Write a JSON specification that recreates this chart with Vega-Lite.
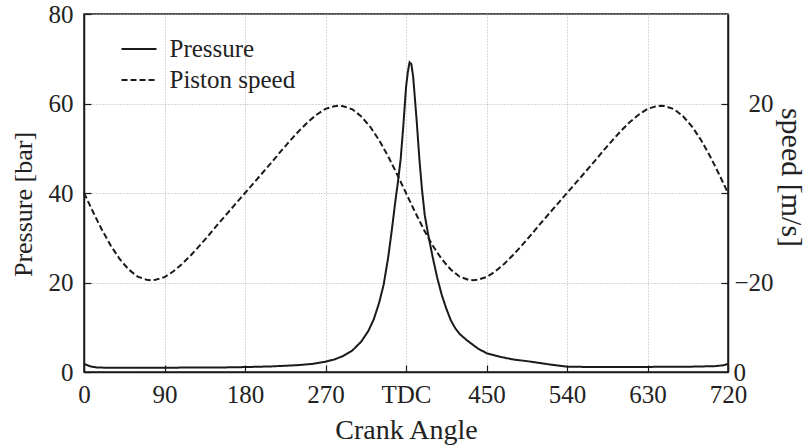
{
  "$schema": "https://vega.github.io/schema/vega-lite/v6.json",
  "width": 644,
  "height": 358,
  "autosize": {"type": "none"},
  "padding": {"left": 84, "top": 14, "right": 81, "bottom": 75},
  "background": "white",
  "config": {
    "font": "Liberation Serif",
    "view": {"stroke": "#1a1a1a", "strokeWidth": 1.5},
    "axis": {
      "labelFont": "Liberation Serif",
      "titleFont": "Liberation Serif",
      "labelColor": "#222",
      "titleColor": "#222",
      "titleFontWeight": "normal",
      "domainColor": "#1a1a1a",
      "domainWidth": 1.5,
      "tickColor": "#1a1a1a",
      "tickWidth": 1.2,
      "gridColor": "#b0b0b0",
      "gridDash": [1, 2],
      "gridWidth": 1,
      "labelFontSize": 25,
      "titleFontSize": 26
    },
    "legend": {"labelFont": "Liberation Serif"}
  },
  "data": {
    "values": [
      {"angle": 0, "value": 1.8, "series": "Pressure"},
      {"angle": 4, "value": 1.5, "series": "Pressure"},
      {"angle": 8, "value": 1.2, "series": "Pressure"},
      {"angle": 15, "value": 1.0, "series": "Pressure"},
      {"angle": 30, "value": 0.95, "series": "Pressure"},
      {"angle": 60, "value": 0.95, "series": "Pressure"},
      {"angle": 90, "value": 0.95, "series": "Pressure"},
      {"angle": 120, "value": 1.0, "series": "Pressure"},
      {"angle": 150, "value": 1.0, "series": "Pressure"},
      {"angle": 180, "value": 1.1, "series": "Pressure"},
      {"angle": 210, "value": 1.25, "series": "Pressure"},
      {"angle": 240, "value": 1.55, "series": "Pressure"},
      {"angle": 255, "value": 1.8, "series": "Pressure"},
      {"angle": 270, "value": 2.3, "series": "Pressure"},
      {"angle": 280, "value": 2.8, "series": "Pressure"},
      {"angle": 290, "value": 3.6, "series": "Pressure"},
      {"angle": 300, "value": 4.8, "series": "Pressure"},
      {"angle": 310, "value": 6.8, "series": "Pressure"},
      {"angle": 318, "value": 9.2, "series": "Pressure"},
      {"angle": 324, "value": 11.8, "series": "Pressure"},
      {"angle": 330, "value": 15.5, "series": "Pressure"},
      {"angle": 335, "value": 19.5, "series": "Pressure"},
      {"angle": 340, "value": 25.5, "series": "Pressure"},
      {"angle": 344, "value": 31.5, "series": "Pressure"},
      {"angle": 348, "value": 38, "series": "Pressure"},
      {"angle": 351, "value": 42.5, "series": "Pressure"},
      {"angle": 354, "value": 47.5, "series": "Pressure"},
      {"angle": 357, "value": 55, "series": "Pressure"},
      {"angle": 360, "value": 63.5, "series": "Pressure"},
      {"angle": 362, "value": 67, "series": "Pressure"},
      {"angle": 364, "value": 69.2, "series": "Pressure"},
      {"angle": 366, "value": 68.8, "series": "Pressure"},
      {"angle": 368, "value": 66, "series": "Pressure"},
      {"angle": 370, "value": 61, "series": "Pressure"},
      {"angle": 372, "value": 56, "series": "Pressure"},
      {"angle": 375, "value": 47.5, "series": "Pressure"},
      {"angle": 378, "value": 40.5, "series": "Pressure"},
      {"angle": 381, "value": 35, "series": "Pressure"},
      {"angle": 385, "value": 30.5, "series": "Pressure"},
      {"angle": 390, "value": 25.5, "series": "Pressure"},
      {"angle": 395, "value": 21, "series": "Pressure"},
      {"angle": 400, "value": 17.2, "series": "Pressure"},
      {"angle": 405, "value": 14.2, "series": "Pressure"},
      {"angle": 410, "value": 11.6, "series": "Pressure"},
      {"angle": 415, "value": 9.8, "series": "Pressure"},
      {"angle": 420, "value": 8.5, "series": "Pressure"},
      {"angle": 428, "value": 7.1, "series": "Pressure"},
      {"angle": 440, "value": 5.3, "series": "Pressure"},
      {"angle": 450, "value": 4.2, "series": "Pressure"},
      {"angle": 465, "value": 3.4, "series": "Pressure"},
      {"angle": 480, "value": 2.8, "series": "Pressure"},
      {"angle": 500, "value": 2.3, "series": "Pressure"},
      {"angle": 520, "value": 1.7, "series": "Pressure"},
      {"angle": 540, "value": 1.2, "series": "Pressure"},
      {"angle": 570, "value": 1.1, "series": "Pressure"},
      {"angle": 600, "value": 1.1, "series": "Pressure"},
      {"angle": 640, "value": 1.15, "series": "Pressure"},
      {"angle": 680, "value": 1.2, "series": "Pressure"},
      {"angle": 705, "value": 1.3, "series": "Pressure"},
      {"angle": 715, "value": 1.5, "series": "Pressure"},
      {"angle": 720, "value": 1.8, "series": "Pressure"},

      {"angle": 0, "value": 0, "series": "Piston speed"},
      {"angle": 10, "value": -4.2, "series": "Piston speed"},
      {"angle": 20, "value": -8.2, "series": "Piston speed"},
      {"angle": 30, "value": -11.8, "series": "Piston speed"},
      {"angle": 40, "value": -14.8, "series": "Piston speed"},
      {"angle": 50, "value": -17.1, "series": "Piston speed"},
      {"angle": 60, "value": -18.7, "series": "Piston speed"},
      {"angle": 70, "value": -19.4, "series": "Piston speed"},
      {"angle": 75, "value": -19.5, "series": "Piston speed"},
      {"angle": 80, "value": -19.4, "series": "Piston speed"},
      {"angle": 90, "value": -18.8, "series": "Piston speed"},
      {"angle": 100, "value": -17.5, "series": "Piston speed"},
      {"angle": 110, "value": -15.8, "series": "Piston speed"},
      {"angle": 120, "value": -13.8, "series": "Piston speed"},
      {"angle": 130, "value": -11.6, "series": "Piston speed"},
      {"angle": 140, "value": -9.3, "series": "Piston speed"},
      {"angle": 150, "value": -6.9, "series": "Piston speed"},
      {"angle": 160, "value": -4.6, "series": "Piston speed"},
      {"angle": 170, "value": -2.3, "series": "Piston speed"},
      {"angle": 180, "value": 0, "series": "Piston speed"},
      {"angle": 190, "value": 2.3, "series": "Piston speed"},
      {"angle": 200, "value": 4.6, "series": "Piston speed"},
      {"angle": 210, "value": 6.9, "series": "Piston speed"},
      {"angle": 220, "value": 9.3, "series": "Piston speed"},
      {"angle": 230, "value": 11.6, "series": "Piston speed"},
      {"angle": 240, "value": 13.8, "series": "Piston speed"},
      {"angle": 250, "value": 15.8, "series": "Piston speed"},
      {"angle": 260, "value": 17.5, "series": "Piston speed"},
      {"angle": 270, "value": 18.8, "series": "Piston speed"},
      {"angle": 280, "value": 19.4, "series": "Piston speed"},
      {"angle": 285, "value": 19.5, "series": "Piston speed"},
      {"angle": 290, "value": 19.4, "series": "Piston speed"},
      {"angle": 300, "value": 18.7, "series": "Piston speed"},
      {"angle": 310, "value": 17.1, "series": "Piston speed"},
      {"angle": 320, "value": 14.8, "series": "Piston speed"},
      {"angle": 330, "value": 11.8, "series": "Piston speed"},
      {"angle": 340, "value": 8.2, "series": "Piston speed"},
      {"angle": 350, "value": 4.2, "series": "Piston speed"},
      {"angle": 360, "value": 0, "series": "Piston speed"},
      {"angle": 370, "value": -4.2, "series": "Piston speed"},
      {"angle": 380, "value": -8.2, "series": "Piston speed"},
      {"angle": 390, "value": -11.8, "series": "Piston speed"},
      {"angle": 400, "value": -14.8, "series": "Piston speed"},
      {"angle": 410, "value": -17.1, "series": "Piston speed"},
      {"angle": 420, "value": -18.7, "series": "Piston speed"},
      {"angle": 430, "value": -19.4, "series": "Piston speed"},
      {"angle": 435, "value": -19.5, "series": "Piston speed"},
      {"angle": 440, "value": -19.4, "series": "Piston speed"},
      {"angle": 450, "value": -18.8, "series": "Piston speed"},
      {"angle": 460, "value": -17.5, "series": "Piston speed"},
      {"angle": 470, "value": -15.8, "series": "Piston speed"},
      {"angle": 480, "value": -13.8, "series": "Piston speed"},
      {"angle": 490, "value": -11.6, "series": "Piston speed"},
      {"angle": 500, "value": -9.3, "series": "Piston speed"},
      {"angle": 510, "value": -6.9, "series": "Piston speed"},
      {"angle": 520, "value": -4.6, "series": "Piston speed"},
      {"angle": 530, "value": -2.3, "series": "Piston speed"},
      {"angle": 540, "value": 0, "series": "Piston speed"},
      {"angle": 550, "value": 2.3, "series": "Piston speed"},
      {"angle": 560, "value": 4.6, "series": "Piston speed"},
      {"angle": 570, "value": 6.9, "series": "Piston speed"},
      {"angle": 580, "value": 9.3, "series": "Piston speed"},
      {"angle": 590, "value": 11.6, "series": "Piston speed"},
      {"angle": 600, "value": 13.8, "series": "Piston speed"},
      {"angle": 610, "value": 15.8, "series": "Piston speed"},
      {"angle": 620, "value": 17.5, "series": "Piston speed"},
      {"angle": 630, "value": 18.8, "series": "Piston speed"},
      {"angle": 640, "value": 19.4, "series": "Piston speed"},
      {"angle": 645, "value": 19.5, "series": "Piston speed"},
      {"angle": 650, "value": 19.4, "series": "Piston speed"},
      {"angle": 660, "value": 18.7, "series": "Piston speed"},
      {"angle": 670, "value": 17.1, "series": "Piston speed"},
      {"angle": 680, "value": 14.8, "series": "Piston speed"},
      {"angle": 690, "value": 11.8, "series": "Piston speed"},
      {"angle": 700, "value": 8.2, "series": "Piston speed"},
      {"angle": 710, "value": 4.2, "series": "Piston speed"},
      {"angle": 720, "value": 0, "series": "Piston speed"}
    ]
  },
  "encoding": {
    "x": {
      "field": "angle",
      "type": "quantitative",
      "scale": {"domain": [0, 720], "nice": false, "zero": false},
      "axis": {
        "title": "Crank Angle",
        "titleFontSize": 28,
        "values": [0, 90, 180, 270, 360, 450, 540, 630, 720],
        "labelExpr": "datum.value === 360 ? 'TDC' : datum.label",
        "grid": true,
        "tickSize": -7,
        "labelPadding": 17,
        "titlePadding": 9,
        "labelFlush": false
      }
    },
    "strokeDash": {
      "field": "series",
      "type": "nominal",
      "scale": {"domain": ["Pressure", "Piston speed"], "range": [[1, 0], [6, 3]]},
      "legend": {
        "title": null,
        "orient": "none",
        "legendX": 36.5,
        "legendY": 22.5,
        "symbolType": "stroke",
        "symbolSize": 1225,
        "symbolStrokeWidth": 2,
        "symbolStrokeColor": "#1a1a1a",
        "labelFontSize": 25,
        "labelColor": "#222",
        "labelOffset": 12,
        "clipHeight": 25,
        "rowPadding": 5,
        "padding": 0
      }
    }
  },
  "layer": [
    {
      "transform": [{"filter": "datum.series === 'Pressure'"}],
      "mark": {"type": "line", "color": "#1a1a1a", "strokeWidth": 2},
      "encoding": {
        "y": {
          "field": "value",
          "type": "quantitative",
          "scale": {"domain": [0, 80], "nice": false},
          "axis": {
            "orient": "left",
            "title": "Pressure [bar]",
            "values": [0, 20, 40, 60, 80],
            "grid": true,
            "tickSize": -7,
            "labelPadding": 18,
            "titlePadding": 12,
            "titleY": 190
          }
        }
      }
    },
    {
      "transform": [{"filter": "datum.series === 'Piston speed'"}],
      "mark": {"type": "line", "color": "#1a1a1a", "strokeWidth": 2},
      "encoding": {
        "y": {
          "field": "value",
          "type": "quantitative",
          "scale": {"domain": [-40, 40], "nice": false, "zero": false},
          "axis": {
            "orient": "right",
            "title": "speed [m/s]",
            "titleFontSize": 30,
            "titleY": 163,
            "values": [-20, 0, 20],
            "labelExpr": "datum.value === 0 ? '' : datum.value === 20 ? '20' : '\u221220'",
            "labelAlign": "right",
            "grid": false,
            "tickSize": -7,
            "labelPadding": 52,
            "titlePadding": 2,
            "labelFlush": false
          }
        }
      }
    },
    {
      "transform": [{"filter": "datum.series === 'Pressure'"}],
      "mark": {"type": "line", "color": "#1a1a1a", "strokeWidth": 2, "opacity": 0},
      "encoding": {
        "y": {
          "field": "value",
          "type": "quantitative",
          "scale": {"domain": [0, 80], "nice": false},
          "axis": {
            "orient": "right",
            "title": null,
            "values": [0],
            "labelAlign": "left",
            "grid": false,
            "ticks": false,
            "domain": false,
            "labelPadding": 5,
            "labelFlush": false
          }
        }
      }
    }
  ],
  "resolve": {"scale": {"y": "independent"}}
}
